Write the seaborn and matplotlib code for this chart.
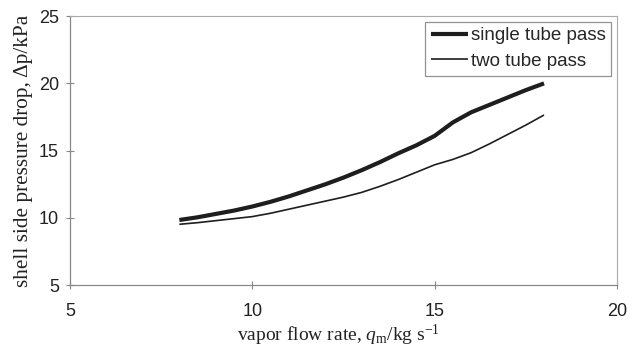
import matplotlib
matplotlib.use("Agg")
import matplotlib.pyplot as plt
import seaborn as sns
import pandas as pd

flow_rate = [8, 8.5, 9, 9.5, 10, 10.5, 11, 11.5, 12, 12.5, 13, 13.5, 14, 14.5, 15, 15.5, 16, 16.5, 17, 17.5, 18]
single_pass = [9.85, 10.05, 10.3, 10.55, 10.85, 11.2, 11.6, 12.05, 12.5, 13.0, 13.55, 14.15, 14.8, 15.4, 16.1, 17.1, 17.85, 18.4, 18.95, 19.5, 20.0]
two_pass = [9.53, 9.65, 9.8, 9.95, 10.1, 10.35, 10.65, 10.95, 11.25, 11.55, 11.9, 12.35, 12.85, 13.4, 13.95, 14.35, 14.85, 15.5, 16.2, 16.9, 17.65]
series_names = ["single tube pass", "two tube pass"]
x_ticks = [5, 10, 15, 20]
y_ticks = [5, 10, 15, 20, 25]

sns.set_style("white")
plt.rcParams["font.family"] = ["Liberation Sans", "DejaVu Sans"]
plt.rcParams["mathtext.fontset"] = "custom"
plt.rcParams["mathtext.rm"] = "Liberation Serif"
plt.rcParams["mathtext.it"] = "Liberation Serif:italic"

df = pd.DataFrame({
    "x": flow_rate * 2,
    "y": single_pass + two_pass,
    "series": [series_names[0]] * len(flow_rate) + [series_names[1]] * len(flow_rate),
})

fig = plt.figure(figsize=(6.39, 3.5), dpi=100)
ax = fig.add_axes([0.1095, 0.185, 0.856, 0.769])

widths = [3.0, 1.2]
for name, lw in zip(series_names, widths):
    sub = df[df["series"] == name]
    sns.lineplot(data=sub, x="x", y="y", ax=ax, color="#1e1e1e", linewidth=lw,
                 label=name, solid_capstyle="butt")

ax.set_xlim(5, 20)
ax.set_ylim(5, 25)
ax.set_xticks(x_ticks)
ax.set_yticks(y_ticks)
ax.tick_params(axis="both", bottom=True, left=True, direction="inout", length=6,
               width=0.8, color="#888888", labelsize=13, labelcolor="#222222", pad=5)
ax.tick_params(axis="x", pad=10)
for side in ["left", "bottom"]:
    ax.spines[side].set_color("#888888")
    ax.spines[side].set_linewidth(0.9)
for side in ["top", "right"]:
    ax.spines[side].set_color("#aaaaaa")
    ax.spines[side].set_linewidth(0.8)

ax.set_xlabel("vapor flow rate, $q_{\\mathrm{m}}$/kg s$^{-1}$", fontsize=14,
              family="Liberation Serif", color="#222222", labelpad=4)
ax.xaxis.set_label_coords(0.49, -0.14)
ax.set_ylabel("shell side pressure drop, \u0394p/kPa", fontsize=15.3,
              family="Liberation Serif", color="#222222", labelpad=4)

leg = ax.legend(loc="upper right", frameon=True, fancybox=False, fontsize=13.5,
                handlelength=2.0, handletextpad=0.15, borderpad=0.3,
                labelspacing=0.45, borderaxespad=0.3)
leg.get_frame().set_edgecolor("#777777")
leg.get_frame().set_linewidth(0.9)

fig.savefig("out.png", dpi=100)
